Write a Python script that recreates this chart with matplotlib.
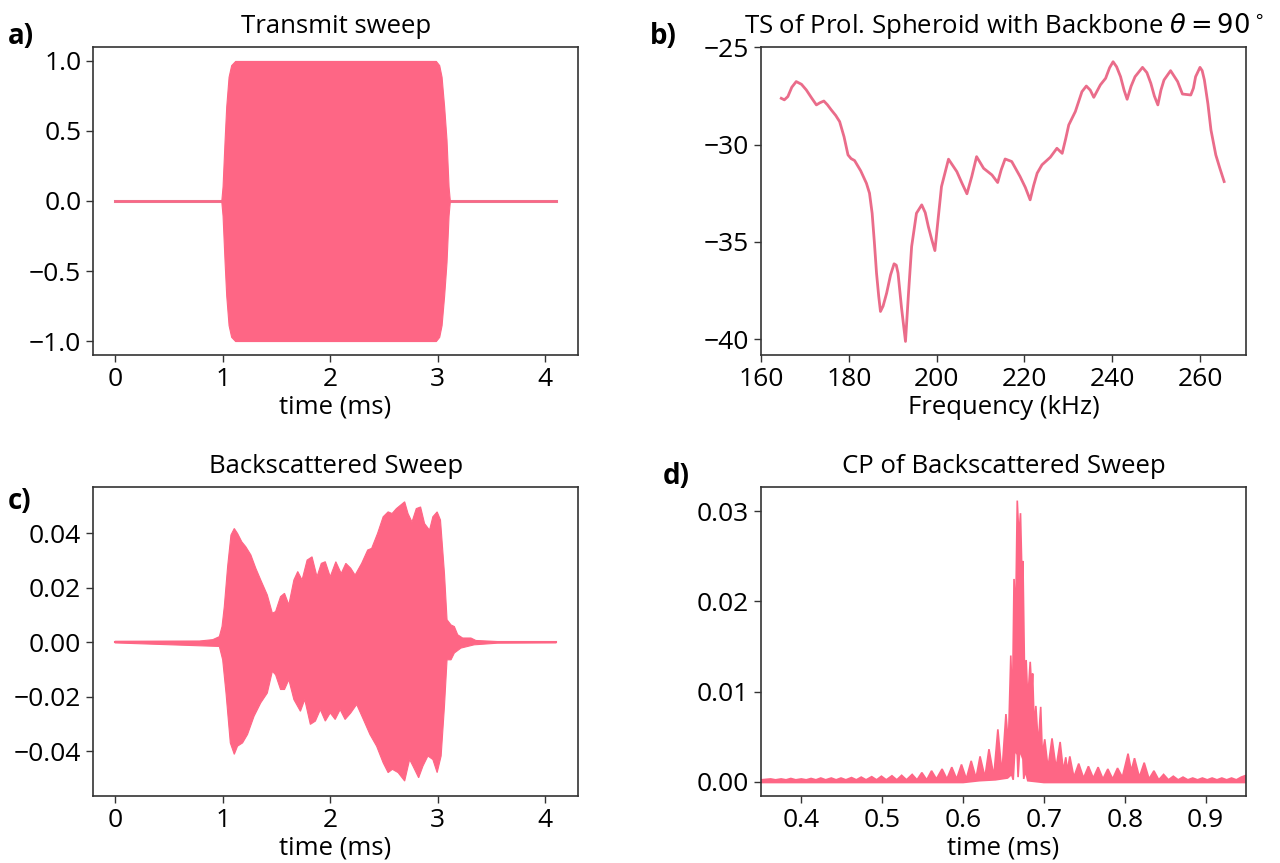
import matplotlib
matplotlib.use("Agg")
import matplotlib.pyplot as plt
import numpy as np

plt.rcParams['font.family'] = ['Open Sans', 'DejaVu Sans']
plt.rcParams['mathtext.fontset'] = 'dejavusans'

kolor = "#fe6685"

# a) nadawany sweep - obwiednia (czas w ms)
a_czas = [0.0, 0.987, 0.999, 1.018, 1.033, 1.055, 1.079, 1.116, 2.982, 3.013, 3.035, 3.059, 3.081, 3.100, 3.112, 4.1]
a_gora = [0.0, 0.0, 0.104, 0.437, 0.674, 0.887, 0.970, 1.0, 1.0, 0.970, 0.887, 0.674, 0.437, 0.104, 0.0, 0.0]

# b) TS sferoidy
b_freq = [164.6, 165.3, 166.1, 167.0, 168.0, 169.2, 170.3, 171.5, 172.6, 173.4, 174.3, 175.1, 176.0, 177.0,
          177.9, 178.9, 179.8, 180.5, 181.3, 182.7, 184.0, 184.7, 185.3, 185.8, 186.3, 186.8, 187.2, 187.8,
          188.6, 189.5, 190.3, 190.8, 191.2, 192.0, 192.9, 193.6, 194.3, 195.4, 196.6, 197.4, 198.1, 198.9,
          199.6, 200.3, 201.1, 202.7, 204.6, 205.8, 206.9, 208.0, 209.1, 210.7, 212.6, 213.9, 214.7, 215.6,
          217.1, 219.0, 220.2, 221.3, 222.1, 222.9, 224.0, 225.9, 227.4, 228.6, 229.4, 230.1, 231.6, 233.1,
          234.1, 235.0, 235.8, 237.3, 238.5, 239.4, 240.2, 241.0, 241.9, 242.7, 243.4, 244.3, 245.2, 246.9,
          247.9, 248.8, 249.6, 250.4, 251.1, 251.8, 253.3, 254.9, 256.0, 257.9, 258.5, 259.0, 260.0, 260.5,
          261.0, 261.8, 262.5, 263.6, 264.5, 265.5]
b_ts = [-27.62, -27.70, -27.53, -27.05, -26.76, -26.90, -27.19, -27.60, -27.96, -27.85, -27.76, -27.95, -28.22,
        -28.50, -28.82, -29.60, -30.53, -30.72, -30.82, -31.35, -31.99, -32.50, -33.53, -35.00, -36.61, -37.80,
        -38.58, -38.30, -37.64, -36.70, -36.13, -36.20, -36.61, -38.40, -40.12, -37.60, -35.24, -33.53, -33.10,
        -33.50, -34.21, -34.90, -35.45, -33.90, -32.16, -30.75, -31.39, -32.00, -32.53, -31.64, -30.62, -31.22,
        -31.56, -31.95, -31.30, -30.74, -30.87, -31.64, -32.20, -32.84, -32.10, -31.47, -31.04, -30.65, -30.19,
        -30.45, -29.70, -28.99, -28.30, -27.28, -26.99, -27.20, -27.57, -26.93, -26.59, -26.05, -25.74, -26.00,
        -26.51, -27.20, -27.67, -27.00, -26.51, -26.03, -26.30, -26.85, -27.50, -27.96, -27.20, -26.68, -26.20,
        -26.76, -27.40, -27.45, -27.10, -26.51, -26.03, -26.20, -26.68, -27.90, -29.25, -30.53, -31.20, -31.90]

# c) sygnal rozproszony wstecznie - obwiednia gorna i dolna
c_czas_g = [0.0, 0.785, 0.908, 0.969, 0.994, 1.015, 1.046, 1.077, 1.108, 1.138, 1.178, 1.215, 1.262, 1.308,
            1.354, 1.415, 1.462, 1.492, 1.538, 1.575, 1.615, 1.662, 1.698, 1.738, 1.785, 1.831, 1.877, 1.917,
            1.954, 2.0, 2.052, 2.102, 2.145, 2.191, 2.231, 2.292, 2.348, 2.385, 2.44, 2.492, 2.538, 2.575,
            2.615, 2.692, 2.723, 2.76, 2.8, 2.84, 2.877, 2.923, 2.954, 2.994, 3.025, 3.062, 3.086, 3.123,
            3.154, 3.185, 3.231, 3.308, 3.354, 3.554, 4.1]
c_gora = [0.0003, 0.0004, 0.0009, 0.002, 0.0057, 0.013, 0.0277, 0.0393, 0.0417, 0.0399, 0.0368, 0.035, 0.032,
          0.0271, 0.0228, 0.0173, 0.0106, 0.0112, 0.0167, 0.0179, 0.0137, 0.0228, 0.0259, 0.0228, 0.0301,
          0.0313, 0.024, 0.0289, 0.0295, 0.024, 0.0295, 0.0252, 0.0289, 0.0271, 0.0246, 0.0289, 0.0338,
          0.0344, 0.0399, 0.046, 0.0478, 0.0472, 0.049, 0.0515, 0.0472, 0.0441, 0.049, 0.0496, 0.0435,
          0.0411, 0.046, 0.0478, 0.0448, 0.0252, 0.0082, 0.0063, 0.0057, 0.0027, 0.0015, 0.0015, 0.0006,
          0.0002, 0.0002]
c_czas_d = [0.0, 0.969, 1.0, 1.031, 1.071, 1.108, 1.138, 1.185, 1.231, 1.292, 1.354, 1.415, 1.462, 1.492,
            1.538, 1.575, 1.615, 1.662, 1.723, 1.763, 1.815, 1.862, 1.908, 1.954, 2.0, 2.046, 2.092, 2.138,
            2.191, 2.246, 2.308, 2.369, 2.431, 2.492, 2.538, 2.578, 2.631, 2.692, 2.738, 2.769, 2.822, 2.862,
            2.908, 2.954, 2.994, 3.031, 3.062, 3.086, 3.123, 3.154, 3.215, 3.338, 3.554, 4.1]
c_dol = [-0.0003, -0.0016, -0.0065, -0.0187, -0.037, -0.0412, -0.0382, -0.037, -0.0339, -0.0272, -0.0223,
         -0.0187, -0.0107, -0.012, -0.0174, -0.0174, -0.0138, -0.0211, -0.0254, -0.0211, -0.0302, -0.029,
         -0.0248, -0.029, -0.026, -0.0284, -0.0248, -0.0284, -0.026, -0.0229, -0.0284, -0.0339, -0.0382,
         -0.0443, -0.0479, -0.0467, -0.0479, -0.051, -0.0431, -0.0455, -0.0498, -0.0455, -0.0418, -0.0431,
         -0.0479, -0.0418, -0.0235, -0.0065, -0.0065, -0.004, -0.0022, -0.001, -0.0004, -0.0003]

# d) kompresja impulsu (CP) - listki i doliny
d_czas_g = [0.35, 0.362, 0.368, 0.375, 0.381, 0.387, 0.393, 0.400, 0.406, 0.412, 0.418, 0.424, 0.430, 0.437,
            0.443, 0.449, 0.455, 0.462, 0.468, 0.474, 0.480, 0.487, 0.493, 0.499, 0.505, 0.512, 0.518, 0.524,
            0.530, 0.537, 0.543, 0.549, 0.555, 0.561, 0.567, 0.574, 0.580, 0.586, 0.592, 0.598, 0.604, 0.610,
            0.616, 0.621, 0.627, 0.632, 0.638, 0.643, 0.648, 0.653, 0.656, 0.659, 0.661, 0.663, 0.665, 0.667,
            0.669, 0.671, 0.673, 0.674, 0.676, 0.678, 0.680, 0.683, 0.685, 0.686, 0.688, 0.690, 0.693, 0.696,
            0.698, 0.701, 0.705, 0.710, 0.715, 0.720, 0.724, 0.727, 0.729, 0.732, 0.737, 0.743, 0.749, 0.755,
            0.761, 0.767, 0.773, 0.779, 0.785, 0.791, 0.797, 0.804, 0.808, 0.812, 0.818, 0.824, 0.830, 0.836,
            0.842, 0.848, 0.854, 0.860, 0.866, 0.872, 0.878, 0.884, 0.890, 0.896, 0.902, 0.908, 0.914, 0.920,
            0.926, 0.932, 0.938, 0.944, 0.950]
d_gora = [0.0002, 0.0003, 0.0002, 0.0003, 0.0002, 0.00035, 0.0002, 0.0003, 0.0002, 0.00035, 0.0002, 0.0004,
          0.0002, 0.0004, 0.0002, 0.0004, 0.0002, 0.00045, 0.0002, 0.0005, 0.0002, 0.00055, 0.0002, 0.0006,
          0.0002, 0.00065, 0.0002, 0.0007, 0.0002, 0.0008, 0.0002, 0.001, 0.0002, 0.0012, 0.0003, 0.0014,
          0.0003, 0.0016, 0.0003, 0.0019, 0.0003, 0.0023, 0.0004, 0.0028, 0.0005, 0.0036, 0.0006, 0.0058,
          0.0009, 0.0075, 0.004, 0.014, 0.008, 0.0225, 0.018, 0.0312, 0.027, 0.0298, 0.022, 0.0245, 0.012,
          0.0135, 0.009, 0.0133, 0.010, 0.012, 0.006, 0.0084, 0.004, 0.0083, 0.003, 0.0047, 0.0015, 0.0048,
          0.0015, 0.0044, 0.0012, 0.0027, 0.0012, 0.0028, 0.0005, 0.002, 0.0004, 0.0017, 0.0004, 0.0016,
          0.0003, 0.0014, 0.0003, 0.0015, 0.0005, 0.0031, 0.0012, 0.0026, 0.0005, 0.0021, 0.0003, 0.0012,
          0.0002, 0.0008, 0.0002, 0.0006, 0.0002, 0.0005, 0.0002, 0.0004, 0.0002, 0.0004, 0.0002, 0.0004,
          0.0002, 0.0004, 0.0002, 0.0004, 0.0002, 0.0005, 0.0007]
d_czas_d = [0.35, 0.60, 0.62, 0.64, 0.655, 0.660, 0.662, 0.664, 0.667, 0.668, 0.670, 0.674, 0.675, 0.677,
            0.680, 0.70, 0.95]
d_dol = [-0.0001, -0.0001, 0.0001, 0.0002, 0.0004, 0.0008, 0.0002, 0.0035, 0.003, 0.0005, 0.0035, 0.0025,
         0.0003, 0.0012, 0.0001, -0.0001, -0.0001]


fig = plt.figure(figsize=(12.8, 8.63), dpi=100)
ax_a = fig.add_axes([0.0727, 0.5886, 0.379, 0.357])
ax_b = fig.add_axes([0.5945, 0.5886, 0.379, 0.357])
ax_c = fig.add_axes([0.0727, 0.0776, 0.379, 0.358])
ax_d = fig.add_axes([0.5945, 0.0776, 0.379, 0.358])

# a) transmit sweep - linia zera pod wypelnieniem
ax_a.plot([a_czas[0], a_czas[-1]], [0, 0], color="#ec7590", lw=2.2, zorder=0.5)
ax_a.fill_between(a_czas, -np.array(a_gora), a_gora, color=kolor, lw=0.8, edgecolor=kolor, zorder=1)
ax_a.set_xlim(-0.205, 4.305)
ax_a.set_ylim(-1.1, 1.1)
ax_a.set_yticks([-1.0, -0.5, 0.0, 0.5, 1.0])
ax_a.set_xticks([0, 1, 2, 3, 4])
ax_a.set_title("Transmit sweep", pad=10)
ax_a.set_xlabel("time (ms)", labelpad=2)

# b) TS
ax_b.plot(b_freq, b_ts, color="#ea6c8a", lw=2)
ax_b.set_xlim(159.97, 270.5)
ax_b.set_ylim(-40.82, -24.98)
ax_b.set_yticks([-40, -35, -30, -25])
ax_b.set_xticks([160, 180, 200, 220, 240, 260])
ax_b.set_title(r"TS of Prol. Spheroid with Backbone $\theta=90^\circ$", pad=10)
ax_b.set_xlabel("Frequency (kHz)", labelpad=2)

# c) backscattered sweep
ax_c.plot([0, 4.1], [0, 0], color=kolor, lw=1.5, zorder=0.5)
ax_c.fill(np.concatenate([c_czas_g, c_czas_d[::-1]]), np.concatenate([c_gora, c_dol[::-1]]),
          color=kolor, lw=0.8, zorder=1)
ax_c.set_xlim(-0.205, 4.305)
ax_c.set_ylim(-0.0565, 0.0569)
ax_c.set_yticks([-0.04, -0.02, 0.0, 0.02, 0.04])
ax_c.set_yticklabels(["\u22120.04", "\u22120.02", "0.00", "0.02", "0.04"])
ax_c.set_xticks([0, 1, 2, 3, 4])
ax_c.set_title("Backscattered Sweep", pad=10)
ax_c.set_xlabel("time (ms)", labelpad=2)

# d) CP
ax_d.fill(np.concatenate([d_czas_g, d_czas_d[::-1]]), np.concatenate([d_gora, d_dol[::-1]]),
          color=kolor, lw=1.2)
ax_d.set_xlim(0.35, 0.95)
ax_d.set_ylim(-0.0016, 0.0327)
ax_d.set_yticks([0.0, 0.01, 0.02, 0.03])
ax_d.set_yticklabels(["0.00", "0.01", "0.02", "0.03"])
ax_d.set_xticks([0.4, 0.5, 0.6, 0.7, 0.8, 0.9])
ax_d.set_title("CP of Backscattered Sweep", pad=10)
ax_d.set_xlabel("time (ms)", labelpad=2)

for ax in [ax_a, ax_b, ax_c, ax_d]:
    ax.tick_params(labelsize=19, length=5, width=1.0, color="#333333")
    ax.title.set_fontsize(18.5)
    ax.xaxis.label.set_fontsize(18.5)
    for s in ax.spines.values():
        s.set_color("#333333")
        s.set_linewidth(1.2)

# oznaczenia paneli
for tekst, x, y in [("a)", 0.006, 0.975), ("b)", 0.508, 0.975), ("c)", 0.006, 0.436), ("d)", 0.518, 0.465)]:
    fig.text(x, y, tekst, fontsize=20, fontweight="bold", va="top")

plt.savefig("out.png", dpi=100)
plt.close()
